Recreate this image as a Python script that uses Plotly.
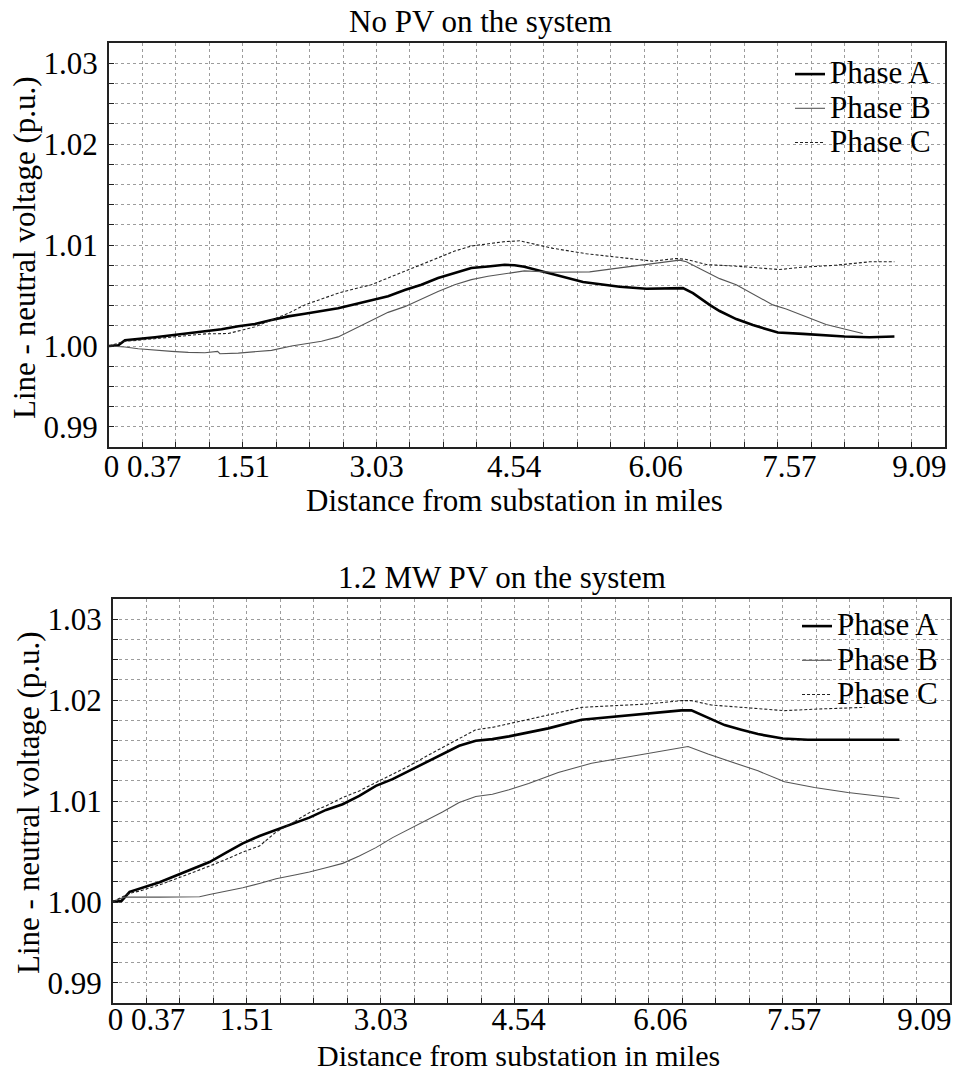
import plotly.graph_objects as go

# ---------------- data (distance in miles, voltage in p.u.) ----------------
# Top panel: No PV on the system
nopv_a_x = [0, 0.106, 0.181, 0.332, 0.521, 0.709, 0.898, 1.086, 1.275, 1.464, 1.652, 1.841, 2.029,
            2.218, 2.407, 2.595, 2.784, 2.972, 3.161, 3.350, 3.538, 3.727, 3.915, 4.104, 4.293,
            4.481, 4.594, 4.704, 5.369, 5.784, 6.086, 6.425, 6.501, 6.614, 6.803, 6.916, 7.104,
            7.293, 7.576, 7.859, 8.330, 8.613, 8.896]
nopv_a_y = [0.99889, 0.99896, 0.99952, 0.99963, 0.99985, 1.00007, 1.00030, 1.00052, 1.00074,
            1.00107, 1.00130, 1.00174, 1.00215, 1.00244, 1.00274, 1.00304, 1.00348, 1.00393,
            1.00437, 1.00504, 1.00563, 1.00637, 1.00689, 1.00748, 1.00763, 1.00782, 1.00778,
            1.00760, 1.00593, 1.00541, 1.00519, 1.00526, 1.00526, 1.00470, 1.00341, 1.00274,
            1.00185, 1.00119, 1.00037, 1.00022, 0.99993, 0.99985, 0.99993]

nopv_b_x = [0, 0.181, 0.332, 0.521, 0.709, 0.898, 1.086, 1.230, 1.256, 1.464, 1.652, 1.841, 2.067,
            2.218, 2.407, 2.595, 2.784, 2.972, 3.161, 3.350, 3.538, 3.727, 3.915, 4.104, 4.293,
            4.481, 4.704, 5.030, 5.444, 5.784, 6.161, 6.463, 6.539, 6.916, 7.104, 7.519, 7.670,
            8.122, 8.537]
nopv_b_y = [0.99889, 0.99878, 0.99859, 0.99841, 0.99830, 0.99819, 0.99815, 0.99830, 0.99804,
            0.99811, 0.99822, 0.99841, 0.99889, 0.99915, 0.99941, 0.99989, 1.00082, 1.00174,
            1.00259, 1.00322, 1.00407, 1.00489, 1.00563, 1.00619, 1.00656, 1.00682, 1.00715,
            1.00700, 1.00704, 1.00748, 1.00793, 1.00833, 1.00815, 1.00630, 1.00563, 1.00341,
            1.00296, 1.00126, 1.00026]

nopv_c_x = [0, 0.181, 0.332, 0.521, 0.709, 0.898, 1.086, 1.350, 1.464, 1.652, 1.841, 2.029, 2.218,
            2.407, 2.595, 2.784, 2.972, 3.161, 3.350, 3.538, 3.727, 3.915, 4.104, 4.293, 4.481,
            4.652, 5.030, 5.407, 5.784, 6.161, 6.425, 6.539, 6.765, 7.104, 7.595, 7.859, 8.236,
            8.613, 8.896]
nopv_c_y = [0.99889, 0.99941, 0.99952, 0.99970, 0.99989, 1.00007, 1.00022, 1.00026, 1.00052,
            1.00100, 1.00174, 1.00248, 1.00341, 1.00407, 1.00470, 1.00519, 1.00563, 1.00637,
            1.00711, 1.00778, 1.00859, 1.00933, 1.00989, 1.01015, 1.01037, 1.01046, 1.00963,
            1.00904, 1.00859, 1.00822, 1.00852, 1.00841, 1.00785, 1.00767, 1.00730, 1.00756,
            1.00778, 1.00815, 1.00815]

# Bottom panel: 1.2 MW PV on the system
pv_a_x = [0, 0.094, 0.188, 0.339, 0.527, 0.715, 0.904, 1.092, 1.280, 1.468, 1.657, 1.845, 2.033,
          2.221, 2.410, 2.598, 2.786, 2.974, 3.163, 3.351, 3.539, 3.727, 3.916, 4.104, 4.292,
          4.480, 4.702, 4.924, 5.301, 5.677, 6.054, 6.430, 6.543, 6.731, 6.919, 7.108, 7.296,
          7.578, 7.861, 8.425, 8.896]
pv_a_y = [0.99895, 0.99898, 1.00001, 1.00045, 1.00107, 1.00181, 1.00255, 1.00328, 1.00431,
          1.00534, 1.00615, 1.00681, 1.00744, 1.00817, 1.00902, 1.00964, 1.01056, 1.01167,
          1.01240, 1.01332, 1.01424, 1.01516, 1.01608, 1.01663, 1.01681, 1.01711, 1.01752,
          1.01799, 1.01894, 1.01931, 1.01968, 1.01997, 1.01997, 1.01920, 1.01835, 1.01784,
          1.01736, 1.01688, 1.01674, 1.01674, 1.01674]

pv_b_x = [0, 0.132, 0.527, 0.979, 1.092, 1.280, 1.468, 1.657, 1.845, 2.071, 2.221, 2.410, 2.598,
          2.786, 2.974, 3.163, 3.351, 3.539, 3.727, 3.916, 4.104, 4.292, 4.480, 4.702, 5.037,
          5.414, 5.790, 6.166, 6.505, 6.731, 6.995, 7.296, 7.597, 7.936, 8.313, 8.614, 8.896]
pv_b_y = [0.99895, 0.99942, 0.99942, 0.99946, 0.99972, 1.00009, 1.00045, 1.00093, 1.00145,
          1.00189, 1.00218, 1.00266, 1.00314, 1.00395, 1.00487, 1.00597, 1.00689, 1.00781,
          1.00880, 1.00983, 1.01049, 1.01075, 1.01123, 1.01192, 1.01313, 1.01416, 1.01479,
          1.01541, 1.01600, 1.01516, 1.01431, 1.01332, 1.01211, 1.01148, 1.01093, 1.01056,
          1.01027]

pv_c_x = [0, 0.188, 0.339, 0.527, 0.715, 0.904, 1.092, 1.280, 1.468, 1.657, 1.845, 2.033, 2.221,
          2.410, 2.598, 2.786, 2.974, 3.163, 3.351, 3.539, 3.727, 3.916, 4.104, 4.292, 4.480,
          4.702, 4.924, 5.301, 5.677, 6.054, 6.430, 6.543, 6.769, 7.108, 7.597, 7.974, 8.501]
pv_c_y = [0.99895, 0.99983, 1.00020, 1.00078, 1.00145, 1.00211, 1.00284, 1.00358, 1.00439,
          1.00505, 1.00659, 1.00762, 1.00872, 1.00946, 1.01038, 1.01111, 1.01203, 1.01295,
          1.01387, 1.01490, 1.01589, 1.01688, 1.01784, 1.01810, 1.01847, 1.01898, 1.01946,
          1.02030, 1.02049, 1.02067, 1.02104, 1.02104, 1.02056, 1.02030, 1.01994, 1.02012,
          1.02030]

# axis grid / tick labels
NB = "\u00a0"
x_grid_step = 0.37875          # miles between vertical grid lines
x_grid_count = 25
x_tick_labels = ["", "0" + NB + "0.37", "", "", "1.51", "", "", "", "3.03", "", "", "",
                 NB + "4.54", "", "", "", NB * 3 + "6.06", "", "", "", NB * 3 + "7.57", "", "", "",
                 NB * 2 + "9.09", ""]
y_min_label = 0.99
y_max_label = 1.03
y_grid_count = 18
y_tick_labels = ["0.99", "", "", "", "1.00", "", "", "", "", "1.01", "", "", "", "",
                 "1.02", "", "", "", "1.03"]

titles = ["No PV on the system", "1.2 MW PV on the system"]
x_title = "Distance from substation in miles"
y_title = "Line - neutral voltage (p.u.)"
phase_names = ["Phase A", "Phase B", "Phase C"]

# ---------------- figure ----------------
W, H = 956, 1072
FONT = "Liberation Serif, Times New Roman, serif"
TXT = 31

fig = go.Figure()

styles = [dict(color="#000000", width=2.6),
          dict(color="#555555", width=1.1),
          dict(color="#222222", width=1.1, dash="3px,2px")]

panels = [
    ("x", "y", "legend", [(nopv_a_x, nopv_a_y), (nopv_b_x, nopv_b_y), (nopv_c_x, nopv_c_y)]),
    ("x2", "y2", "legend2", [(pv_a_x, pv_a_y), (pv_b_x, pv_b_y), (pv_c_x, pv_c_y)]),
]
for xa, ya, leg, series in panels:
    for name, (xs, ys), st in zip(phase_names, series, styles):
        fig.add_trace(go.Scatter(x=xs, y=ys, mode="lines",
                                 name="<span style='font-size:%dpx'>%s</span>" % (TXT, name),
                                 line=st, xaxis=xa, yaxis=ya, legend=leg))

ystep = (y_max_label - y_min_label) / y_grid_count
y_vals = [y_min_label + k * ystep for k in range(y_grid_count + 1)]
x_vals = [k * x_grid_step for k in range(x_grid_count + 1)]

grid = dict(showgrid=True, gridcolor="#9c9c9c", gridwidth=1, griddash="3px,3px",
            showline=True, linecolor="#222222", linewidth=2, mirror=True,
            ticks="inside", ticklen=5, tickwidth=1, tickcolor="#222222",
            zeroline=False, automargin=False,
            tickfont=dict(family=FONT, size=TXT, color="#000000"))

xaxis_common = dict(grid, tickmode="array", tickvals=x_vals, ticktext=x_tick_labels,
                    tickangle=0, range=[0, x_grid_count * x_grid_step], ticklabelstandoff=-9)
yaxis_common = dict(grid, tickmode="array", tickvals=y_vals, ticktext=y_tick_labels,
                    range=[y_min_label - ystep, y_max_label + ystep], ticklabelstandoff=3)

def px_x(p):
    return p / W

def px_y(p):
    return 1 - p / H

legend_common = dict(xanchor="right", yanchor="top", bgcolor="rgba(0,0,0,0)",
                     font=dict(family=FONT, size=24, color="#000000"))

fig.update_layout(
    width=W, height=H, margin=dict(l=0, r=0, t=0, b=0, autoexpand=False),
    paper_bgcolor="white", plot_bgcolor="white",
    font=dict(family=FONT, color="#000000"),
    xaxis=dict(xaxis_common, domain=[px_x(109), px_x(945)], anchor="y"),
    yaxis=dict(yaxis_common, domain=[px_y(447), px_y(43)], anchor="x"),
    xaxis2=dict(xaxis_common, domain=[px_x(113), px_x(950)], anchor="y2",
                ticklabelstandoff=-12),
    yaxis2=dict(yaxis_common, domain=[px_y(1003), px_y(599)], anchor="x2"),
    legend=dict(legend_common, x=px_x(937), y=px_y(52)),
    legend2=dict(legend_common, x=px_x(944), y=px_y(604)),
    showlegend=True,
)

ann_font = dict(family=FONT, size=TXT, color="#000000")
annotations = [
    dict(text=titles[0], x=px_x(480), y=px_y(21)),
    dict(text=titles[1], x=px_x(502), y=px_y(577)),
    dict(text=x_title, x=px_x(514), y=px_y(500)),
    dict(text=x_title, x=px_x(518), y=px_y(1055), font=dict(ann_font, size=30)),
    dict(text=y_title, x=px_x(24), y=px_y(248), textangle=-90),
    dict(text=y_title, x=px_x(28), y=px_y(803), textangle=-90),
]
for a in annotations:
    a.setdefault("font", ann_font)
    fig.add_annotation(xref="paper", yref="paper", showarrow=False, xanchor="center",
                       yanchor="middle", **a)

fig.write_html("out.html")
